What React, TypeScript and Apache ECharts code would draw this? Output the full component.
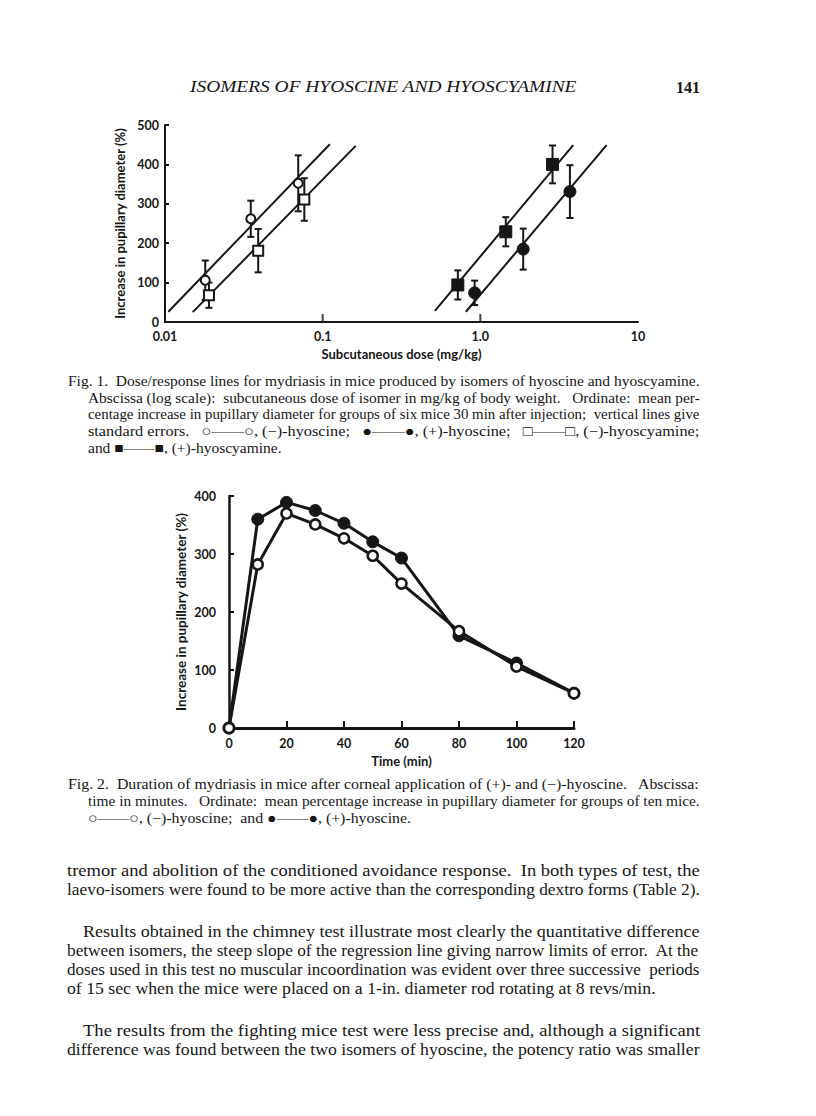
import React, { useEffect, useRef } from "react";
import * as echarts from "echarts";

// ---------- Fig. 1 data (dose in mg/kg, log scale; response in %) ----------
const F1_X_TICKS = [0.01, 0.1, 1, 10];
const F1_X_TICK_LABELS = ["0.01", "0.1", "1.0", "10"];
const F1_X_MARKED_TICKS = [0.1, 1];

const hyoscineMinusDose = [0.018, 0.035, 0.07];
const hyoscineMinusResp = [106, 262, 352];
const hyoscineMinusErr = [50, 46, 71];

const hyoscyamineMinusDose = [0.019, 0.039, 0.0765];
const hyoscyamineMinusResp = [68, 181, 311];
const hyoscyamineMinusErr = [32, 55, 54];

const hyoscyaminePlusDose = [0.72, 1.45, 2.87];
const hyoscyaminePlusResp = [94, 229, 400];
const hyoscyaminePlusErr = [37, 37, 48];

const hyoscinePlusDose = [0.92, 1.87, 3.7];
const hyoscinePlusResp = [74, 185, 331];
const hyoscinePlusErr = [31, 52, 67];

// regression lines: [dose, response] end points
const lineHyoscineMinus = [[0.0105, 26], [0.111, 451]];
const lineHyoscyamineMinus = [[0.015, 25], [0.162, 447]];
const lineHyoscyaminePlus = [[0.515, 28], [3.88, 449]];
const lineHyoscinePlus = [[0.81, 26], [6.32, 449]];

// ---------- Fig. 2 data ----------
const f2Times = [0, 10, 20, 30, 40, 50, 60, 80, 100, 120];
const f2HyoscinePlus = [0, 360, 389, 375, 353, 321, 293, 159, 112, 60];
const f2HyoscineMinus = [0, 282, 370, 351, 327, 297, 249, 167, 106, 60];

// ---------- Text ----------
const HEADER = "ISOMERS OF HYOSCINE AND HYOSCYAMINE";
const PAGE_NO = "141";
const Y_TITLE = "Increase in pupillary diameter (%)";
const F1_X_TITLE = "Subcutaneous dose (mg/kg)";
const F2_X_TITLE = "Time (min)";

const CAPTION1 = [
  "Fig. 1.  Dose/response lines for mydriasis in mice produced by isomers of hyoscine and hyoscyamine.",
  "Abscissa (log scale):  subcutaneous dose of isomer in mg/kg of body weight.   Ordinate:  mean per-",
  "centage increase in pupillary diameter for groups of six mice 30 min after injection;  vertical lines give",
  "standard errors.   \u25CB\u2014\u2014\u25CB, (\u2212)-hyoscine;   \u25CF\u2014\u2014\u25CF, (+)-hyoscine;   \u25A1\u2014\u2014\u25A1, (\u2212)-hyoscyamine;",
  "and \u25A0\u2014\u2014\u25A0, (+)-hyoscyamine.",
];
const CAPTION2 = [
  "Fig. 2.  Duration of mydriasis in mice after corneal application of (+)- and (\u2212)-hyoscine.   Abscissa:",
  "time in minutes.   Ordinate:  mean percentage increase in pupillary diameter for groups of ten mice.",
  "\u25CB\u2014\u2014\u25CB, (\u2212)-hyoscine;  and \u25CF\u2014\u2014\u25CF, (+)-hyoscine.",
];
const BODY = [
  "tremor and abolition of the conditioned avoidance response.  In both types of test, the",
  "laevo-isomers were found to be more active than the corresponding dextro forms (Table 2).",
  "Results obtained in the chimney test illustrate most clearly the quantitative difference",
  "between isomers, the steep slope of the regression line giving narrow limits of error.  At the",
  "doses used in this test no muscular incoordination was evident over three successive  periods",
  "of 15 sec when the mice were placed on a 1-in. diameter rod rotating at 8 revs/min.",
  "The results from the fighting mice test were less precise and, although a significant",
  "difference was found between the two isomers of hyoscine, the potency ratio was smaller",
];

// ---------- Layout (positions only) ----------
const INK = "#161616";
const SERIF = "'Liberation Serif', 'Times New Roman', serif";
const SANS = "Lato, 'Open Sans', sans-serif";
const RIGHT_EDGE = 700;

const CAP1_LAYOUT = [
  { x: 68, y: 381, j: true },
  { x: 88, y: 398, j: true },
  { x: 88, y: 414, j: true },
  { x: 88, y: 431, j: true },
  { x: 88, y: 448, j: false },
];
const CAP2_LAYOUT = [
  { x: 68, y: 784, j: true },
  { x: 88, y: 801, j: true },
  { x: 88, y: 818, j: false },
];
const BODY_LAYOUT = [
  { x: 67, y: 870, j: true },
  { x: 67, y: 889, j: true },
  { x: 83, y: 931, j: true },
  { x: 67, y: 950, j: true },
  { x: 67, y: 969, j: true },
  { x: 67, y: 988, j: false },
  { x: 83, y: 1030, j: true },
  { x: 67, y: 1049, j: true },
];

let measureCtx: CanvasRenderingContext2D | null = null;
function measure(text: string, font: string): number {
  if (!measureCtx) measureCtx = document.createElement("canvas").getContext("2d");
  measureCtx!.font = font;
  return measureCtx!.measureText(text).width;
}

function textBlock(lines: string[], layout: any[], size: number, style = "normal") {
  const font = `${style} normal ${size}px ${SERIF}`;
  const scales: number[] = [];
  const nat = lines.map((t) => measure(t, font));
  lines.forEach((t, i) => {
    if (layout[i].j) {
      const s = (RIGHT_EDGE - layout[i].x) / nat[i];
      scales.push(Math.max(0.8, Math.min(1.25, s)));
    }
  });
  const sorted = [...scales].sort((a, b) => a - b);
  const med = sorted.length ? sorted[Math.floor(sorted.length / 2)] : 1;
  let k = 0;
  return lines.map((t, i) => {
    const s = layout[i].j ? scales[k++] : med;
    return {
      type: "text",
      x: layout[i].x,
      y: layout[i].y,
      scaleX: s,
      silent: true,
      style: {
        text: t,
        x: 0,
        y: 0,
        fill: INK,
        fontSize: size,
        fontFamily: SERIF,
        fontStyle: style,
        textAlign: "left",
        verticalAlign: "middle",
      },
    };
  });
}

function errBarSeries(dose: number[], resp: number[], err: number[]) {
  return {
    type: "custom",
    xAxisIndex: 0,
    yAxisIndex: 0,
    silent: true,
    z: 3,
    encode: { x: 0, y: [1, 2] },
    data: dose.map((d, i) => [d, resp[i] - err[i], resp[i] + err[i]]),
    renderItem: (params: any, api: any) => {
      const x = api.value(0);
      const lo = api.coord([x, api.value(1)]);
      const hi = api.coord([x, api.value(2)]);
      const w = 3.5;
      const st = { stroke: INK, lineWidth: 2 };
      return {
        type: "group",
        children: [
          { type: "line", shape: { x1: lo[0], y1: lo[1], x2: hi[0], y2: hi[1] }, style: st },
          { type: "line", shape: { x1: lo[0] - w, y1: lo[1], x2: lo[0] + w, y2: lo[1] }, style: st },
          { type: "line", shape: { x1: hi[0] - w, y1: hi[1], x2: hi[0] + w, y2: hi[1] }, style: st },
        ],
      };
    },
  };
}

function regLine(pts: number[][]) {
  return {
    type: "line",
    xAxisIndex: 0,
    yAxisIndex: 0,
    silent: true,
    symbol: "none",
    z: 2,
    data: pts,
    lineStyle: { color: INK, width: 2 },
  };
}

function markers(dose: number[], resp: number[], symbol: string, size: number, filled: boolean) {
  return {
    type: "scatter",
    xAxisIndex: 0,
    yAxisIndex: 0,
    silent: true,
    z: 5,
    symbol,
    symbolSize: size,
    data: dose.map((d, i) => [d, resp[i]]),
    itemStyle: filled
      ? { color: INK, borderColor: INK, borderWidth: 1, opacity: 1 }
      : { color: "#fff", borderColor: INK, borderWidth: 2, opacity: 1 },
  };
}

const labelStyle = { color: INK, fontFamily: SANS, fontWeight: "bold", fontSize: 12.5 };
const nameStyle1 = { color: INK, fontFamily: SANS, fontWeight: "bold", fontSize: 13 };
const nameStyle2 = { color: INK, fontFamily: SANS, fontWeight: "bold", fontSize: 13.5 };

function buildOption() {
  const f1LabelFmt = (v: number) => {
    const k = F1_X_TICKS.findIndex((t) => Math.abs(Math.log10(t) - Math.log10(v)) < 1e-6);
    return k >= 0 ? F1_X_TICK_LABELS[k] : "";
  };

  const headerNat = measure(HEADER, `italic normal 16px ${SERIF}`);
  const graphics: any[] = [
    ...textBlock([HEADER], [{ x: 190, y: 87, j: false }], 16, "italic").map((e) => ({
      ...e,
      scaleX: 387 / headerNat,
    })),
    {
      type: "text",
      x: 700,
      y: 87,
      silent: true,
      style: {
        text: PAGE_NO,
        fill: INK,
        fontSize: 16,
        fontWeight: "bold",
        fontFamily: SERIF,
        textAlign: "right",
        verticalAlign: "middle",
      },
    },
    ...textBlock(CAPTION1, CAP1_LAYOUT, 14.5),
    ...textBlock(CAPTION2, CAP2_LAYOUT, 14.5),
    ...textBlock(BODY, BODY_LAYOUT, 17.5),
  ];

  return {
    animation: false,
    backgroundColor: "#ffffff",
    grid: [
      { left: 165, top: 125, width: 473, height: 197 },
      { left: 229, top: 496, width: 345, height: 232 },
    ],
    xAxis: [
      {
        type: "log",
        logBase: 10,
        gridIndex: 0,
        min: 0.01,
        max: 10,
        axisLine: { lineStyle: { color: INK, width: 2 } },
        axisTick: { show: false },
        splitLine: { show: false },
        minorTick: { show: false },
        axisLabel: { ...labelStyle, margin: 8, formatter: f1LabelFmt },
        name: F1_X_TITLE,
        nameLocation: "middle",
        nameGap: 25,
        nameTextStyle: nameStyle1,
      },
      {
        type: "value",
        gridIndex: 1,
        min: 0,
        max: 120,
        interval: 20,
        axisLine: { lineStyle: { color: INK, width: 3 } },
        axisTick: { show: true, inside: true, length: 7, lineStyle: { color: INK, width: 2 } },
        splitLine: { show: false },
        axisLabel: { ...labelStyle, margin: 9 },
        name: F2_X_TITLE,
        nameLocation: "middle",
        nameGap: 26,
        nameTextStyle: nameStyle1,
      },
    ],
    yAxis: [
      {
        type: "value",
        gridIndex: 0,
        min: 0,
        max: 500,
        interval: 100,
        axisLine: { show: true, lineStyle: { color: INK, width: 2 } },
        axisTick: { show: true, inside: true, length: 4, lineStyle: { color: INK, width: 2 } },
        splitLine: { show: false },
        axisLabel: { ...labelStyle, margin: 6 },
        name: Y_TITLE,
        nameLocation: "middle",
        nameGap: 35,
        nameTextStyle: nameStyle1,
      },
      {
        type: "value",
        gridIndex: 1,
        min: 0,
        max: 400,
        interval: 100,
        axisLine: { show: true, lineStyle: { color: INK, width: 2.5 } },
        axisTick: { show: true, inside: true, length: 5, lineStyle: { color: INK, width: 2 } },
        splitLine: { show: false },
        axisLabel: { ...labelStyle, margin: 13 },
        name: Y_TITLE,
        nameLocation: "middle",
        nameGap: 41,
        nameTextStyle: nameStyle2,
      },
    ],
    series: [
      regLine(lineHyoscineMinus),
      regLine(lineHyoscyamineMinus),
      regLine(lineHyoscyaminePlus),
      regLine(lineHyoscinePlus),
      errBarSeries(hyoscineMinusDose, hyoscineMinusResp, hyoscineMinusErr),
      errBarSeries(hyoscyamineMinusDose, hyoscyamineMinusResp, hyoscyamineMinusErr),
      errBarSeries(hyoscyaminePlusDose, hyoscyaminePlusResp, hyoscyaminePlusErr),
      errBarSeries(hyoscinePlusDose, hyoscinePlusResp, hyoscinePlusErr),
      markers(hyoscineMinusDose, hyoscineMinusResp, "circle", 9, false),
      markers(hyoscyamineMinusDose, hyoscyamineMinusResp, "rect", 10, false),
      markers(hyoscyaminePlusDose, hyoscyaminePlusResp, "rect", 12, true),
      markers(hyoscinePlusDose, hyoscinePlusResp, "circle", 12, true),
      {
        type: "scatter",
        xAxisIndex: 0,
        yAxisIndex: 0,
        silent: true,
        z: 1,
        symbol: "rect",
        symbolSize: [2, 8],
        symbolOffset: [0, -4],
        data: F1_X_MARKED_TICKS.map((t) => [t, 0]),
        itemStyle: { color: INK },
        clip: false,
      },
      {
        type: "line",
        xAxisIndex: 1,
        yAxisIndex: 1,
        silent: true,
        clip: false,
        z: 3,
        symbol: "circle",
        symbolSize: 12,
        data: f2Times.map((t, i) => [t, f2HyoscinePlus[i]]),
        lineStyle: { color: INK, width: 3 },
        itemStyle: { color: INK, borderColor: INK, borderWidth: 1 },
      },
      {
        type: "line",
        xAxisIndex: 1,
        yAxisIndex: 1,
        silent: true,
        clip: false,
        z: 4,
        symbol: "circle",
        symbolSize: 10,
        data: f2Times.map((t, i) => [t, f2HyoscineMinus[i]]),
        lineStyle: { color: INK, width: 3 },
        itemStyle: { color: "#fff", borderColor: INK, borderWidth: 2.5 },
      },
    ],
    graphic: { elements: graphics },
  };
}

export default function App() {
  const ref = useRef<HTMLDivElement>(null);
  useEffect(() => {
    if (!ref.current) return;
    const chart = echarts.init(ref.current, null, { renderer: "svg" });
    chart.setOption(buildOption() as any);
    return () => chart.dispose();
  }, []);
  return (
    <div
      ref={ref}
      style={{ position: "absolute", left: 0, top: 0, width: 816, height: 1116, background: "#fff" }}
    />
  );
}
